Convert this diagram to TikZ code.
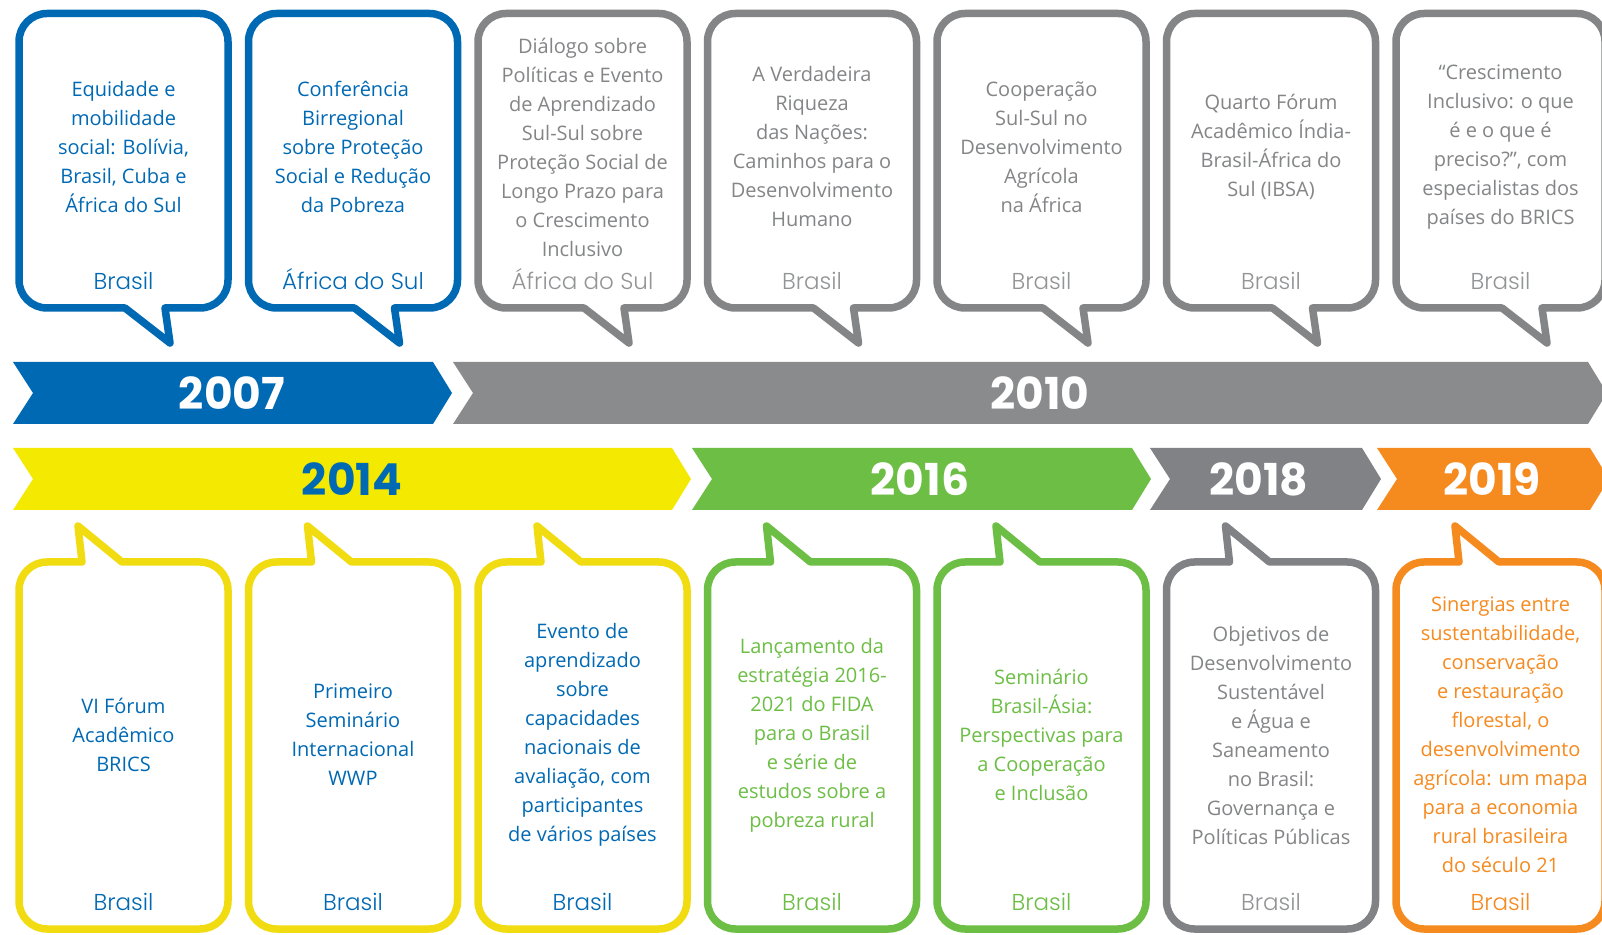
\documentclass[tikz,border=0pt]{standalone}
\usepackage{fontspec}
\setmainfont{Open Sans}
\newfontfamily\ctryfont{Poppins}[UprightFont=* Light]
\newfontfamily\yearfont{Poppins}
\definecolor{cblue}{HTML}{0069B4}
\definecolor{cgray}{HTML}{8A8B8D}
\definecolor{ctext}{HTML}{848587}
\definecolor{clight}{HTML}{939496}
\definecolor{cyellow}{HTML}{F4E900}
\definecolor{cyelline}{HTML}{F1DC12}
\definecolor{cgreen}{HTML}{6DBE45}
\definecolor{cdark}{HTML}{808285}
\definecolor{corange}{HTML}{F58A1F}

\begin{document}
\begin{tikzpicture}[x=0.5pt,y=-0.5pt,
  balloon/.style={line width=3.75pt, line join=round, line cap=round},
  evtext/.style={align=center, font=\fontsize{10}{14.5}\selectfont, inner sep=0pt},
  ctry/.style={font=\ctryfont\fontsize{11.5}{12}\selectfont, inner sep=0pt, text height=8.2pt, text depth=0pt},
  yr/.style={font=\yearfont\bfseries\fontsize{22}{24}\selectfont, inner sep=0pt}]
\fill[white] (0,0) rectangle (1602,935);
\useasboundingbox (0,0) rectangle (1602,935);
\clip (0,0) rectangle (1602,935);

\foreach \yy/\a/\b/\y/\col/\tcol/\xt in {
  2007/13/433/393/cblue/white/232,
  2010/453/1588/393/cgray/white/1040,
  2014/13/672/479/cyellow/cblue/352,
  2016/692/1132/479/cgreen/white/920,
  2018/1150/1362/479/cdark/white/1259,
  2019/1377/1590/479/corange/white/1492}
{
  \fill[\col] (\a,\y-31) -- (\a+20,\y) -- (\a,\y+31) -- (\b,\y+31) -- (\b+19,\y) -- (\b,\y-31) -- cycle;
  \node[yr, text=\tcol] (y\yy) at (\xt,\y) {\yy};
}

\foreach \i/\col/\ccol/\txt/\ctr in {
  0/cblue/cblue/{Equidade e\\mobilidade\\social: Bolívia,\\Brasil, Cuba e\\África do Sul}/Brasil,
  1/cblue/cblue/{Conferência\\Birregional\\sobre Proteção\\Social e Redução\\da Pobreza}/África do Sul,
  2/ctext/clight/{Diálogo sobre\\Políticas e Evento\\de Aprendizado\\Sul-Sul sobre\\Proteção Social de\\Longo Prazo para\\o Crescimento\\Inclusivo}/África do Sul,
  3/ctext/clight/{A Verdadeira\\Riqueza\\das Nações:\\Caminhos para o\\Desenvolvimento\\Humano}/Brasil,
  4/ctext/clight/{Cooperação\\Sul-Sul no\\Desenvolvimento\\Agrícola\\na África}/Brasil,
  5/ctext/clight/{Quarto Fórum\\Acadêmico Índia-\\Brasil-África do\\Sul (IBSA)}/Brasil,
  6/ctext/clight/{“Crescimento\\Inclusivo: o que\\é e o que é\\preciso?”, com\\especialistas dos\\países do BRICS}/Brasil}
{
  \begin{scope}[shift={(15+\i*229.5,0)}]
  \draw[balloon, draw=\col] (150,308) -- (155,343) -- (110,308)
    [rounded corners=14pt] (110,308) -- (4,308) -- (4,13.5) -- (213,13.5) -- (213,308) -- (150,308);
  \node[evtext, text=\col] (top\i) at (108.5,147) {\txt};
  \node[ctry, text=\ccol] (topc\i) at (108.5,281) {\ctr};
  \end{scope}
}

\foreach \i/\col/\tcol/\ccol/\txt in {
  0/cyelline/cblue/cblue/{VI Fórum\\Acadêmico\\BRICS},
  1/cyelline/cblue/cblue/{Primeiro\\Seminário\\Internacional\\WWP},
  2/cyelline/cblue/cblue/{Evento de\\aprendizado\\sobre\\capacidades\\nacionais de\\avaliação, com\\participantes\\de vários países},
  3/cgreen/cgreen/cgreen/{Lançamento da\\estratégia 2016-\\2021 do FIDA\\para o Brasil\\e série de\\estudos sobre a\\pobreza rural},
  4/cgreen/cgreen/cgreen/{Seminário\\Brasil-Ásia:\\Perspectivas para\\a Cooperação\\e Inclusão},
  5/cdark/ctext/clight/{Objetivos de\\Desenvolvimento\\Sustentável\\e Água e\\Saneamento\\no Brasil:\\Governança e\\Políticas Públicas},
  6/corange/corange/corange/{Sinergias entre\\sustentabilidade,\\conservação\\e restauração\\florestal, o\\desenvolvimento\\agrícola: um mapa\\para a economia\\rural brasileira\\do século 21}}
{
  \begin{scope}[shift={(15+\i*229.5,0)}]
  \draw[balloon, draw=\col] (67,562) -- (63,526) -- (107,562)
    [rounded corners=14pt] (107,562) -- (213,562) -- (213,929) -- (4,929) -- (4,562) -- (67,562);
  \node[evtext, text=\tcol] (bot\i) at (108.5,735) {\txt};
  \node[ctry, text=\ccol] (botc\i) at (108.5,902) {Brasil};
  \end{scope}
}
\end{tikzpicture}
\end{document}
